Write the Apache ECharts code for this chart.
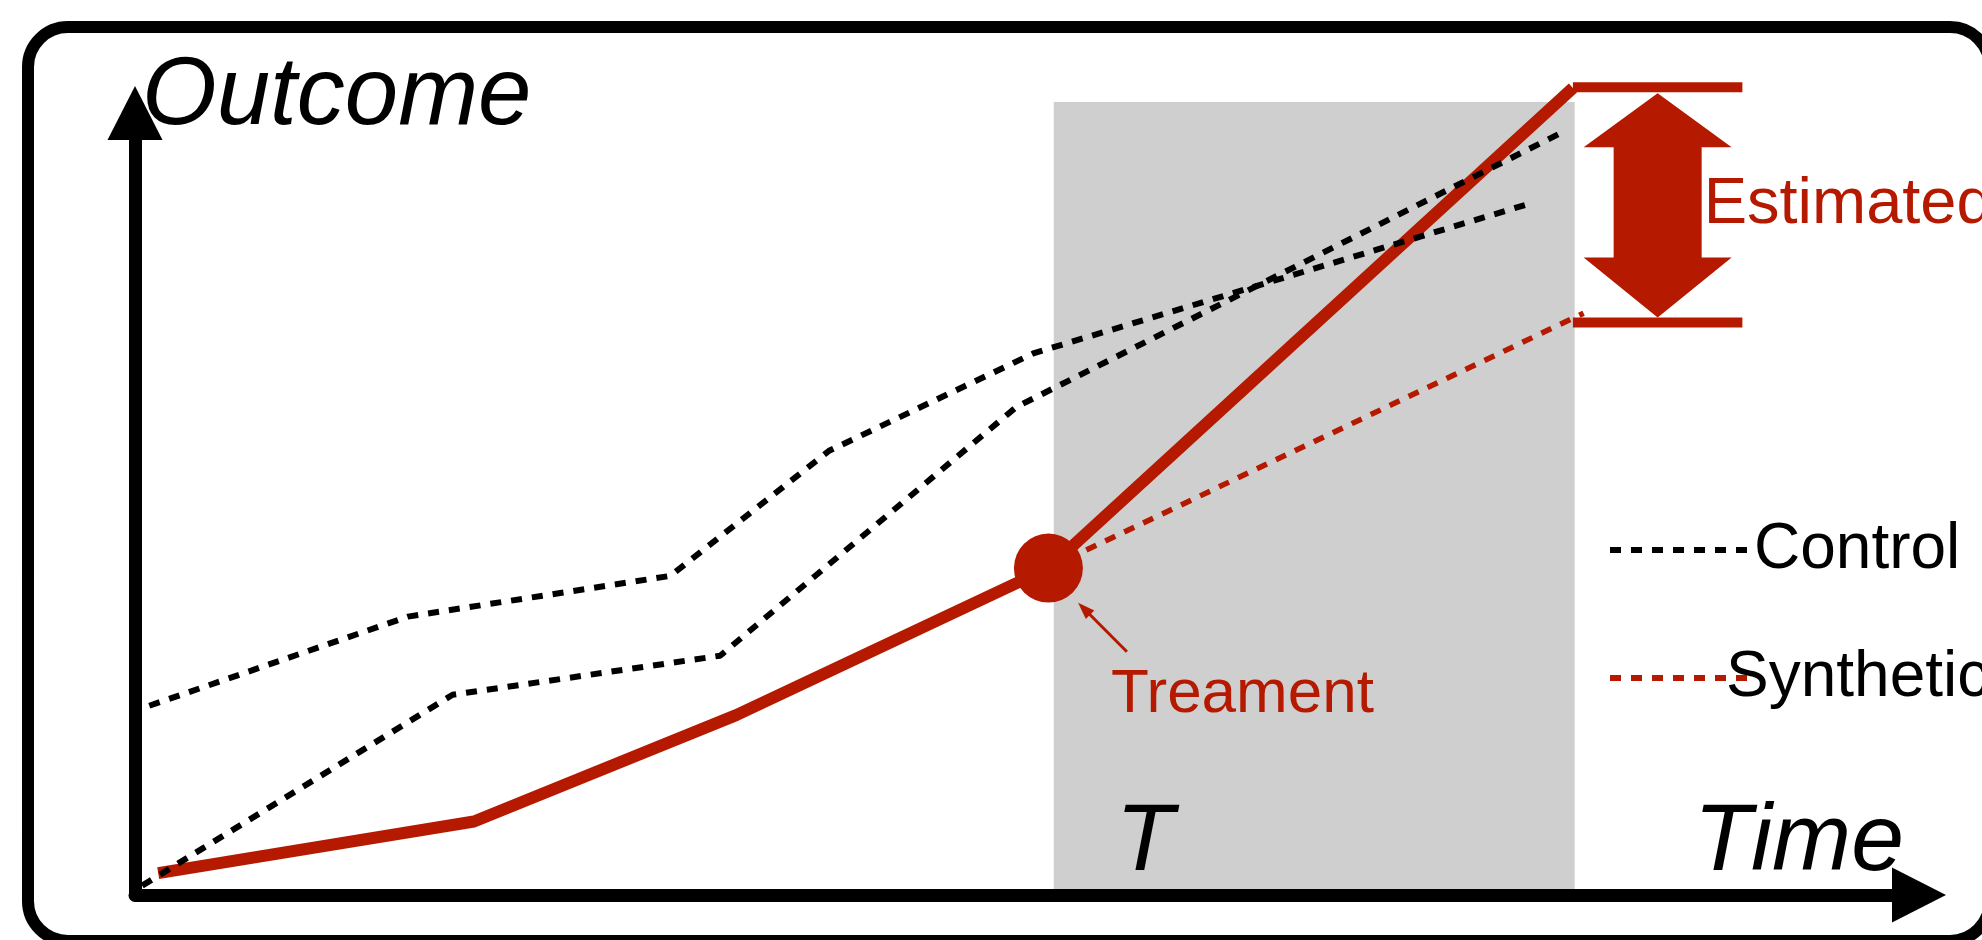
<!DOCTYPE html>
<html>
<head>
<meta charset="utf-8">
<title>Synthetic control</title>
<script src="https://cdn.jsdelivr.net/npm/echarts@6/dist/echarts.min.js"></script>
<style>
  html, body { margin: 0; padding: 0; background: #fff; }
  #main { width: 1982px; height: 940px; }
</style>
</head>
<body>
<div id="main"></div>
<script>
// data (time / outcome in arbitrary units, axes run 0..100)
var timeTreated = [1.3, 19.0, 33.7, 51.2, 80.6];
var outcomeTreated = [2.8, 9.4, 23.0, 41.8, 103.2];
var treatmentIndex = 3;

var timeControlA = [0.8, 15.3, 30.0, 38.9, 50.4, 78.3];
var outcomeControlA = [24.2, 35.6, 40.8, 56.8, 69.3, 88.5];

var timeControlB = [0.4, 17.8, 32.8, 49.4, 79.8];
var outcomeControlB = [1.2, 25.6, 30.6, 62.4, 97.3];

var timeSynthetic = [51.2, 81.2];
var outcomeSynthetic = [41.8, 74.4];

var treatedPeriod = [51.5, 80.7];   // shaded post-treatment window
var shadeTop = 101.4;

var effectTime = [80.6, 90.1];      // extent of the effect brackets
var effectOutcome = [73.2, 103.3];  // synthetic / treated level at the end

var noteFrom = [55.6, 31.1];        // "Treament" pointer
var noteTo = [53.2, 36.6];

var RED = '#b51900';
var FONT = 'Liberation Sans, Arial, Helvetica, sans-serif';

function zip(xs, ys) {
  return xs.map(function (x, i) { return [x, ys[i]]; });
}

var treatedData = zip(timeTreated, outcomeTreated).map(function (p, i) {
  if (i !== treatmentIndex) return p;
  return {
    value: p,
    symbol: 'circle',
    symbolSize: 69,
    itemStyle: { color: RED },
    label: {
      show: true,
      formatter: 'Treament',
      position: [97, 130],
      align: 'left',
      verticalAlign: 'top',
      color: RED,
      fontSize: 62,
      fontFamily: FONT
    }
  };
});

var dashed = [11, 10];

var chart = echarts.init(document.getElementById('main'), null, { renderer: 'canvas' });

var option = {
  animation: false,
  backgroundColor: '#fff',
  textStyle: { fontFamily: FONT },
  grid: { left: 135, right: 63, top: 113, bottom: 45, outerBoundsMode: 'none' },
  legend: {
    orient: 'vertical',
    left: 1602,
    top: 513,
    itemWidth: 139,
    itemHeight: 6,
    itemGap: 64,
    selectedMode: false,
    lineStyle: { width: 6, type: dashed },
    textStyle: { fontSize: 64, color: '#000', fontFamily: FONT },
    data: ['Control', { name: 'Synthetic', textStyle: { padding: [0, 0, 0, -28] } }]
  },
  xAxis: {
    type: 'value', min: 0, max: 100, z: 5,
    name: 'Time',
    nameLocation: 'end',
    nameGap: -15,
    nameTextStyle: {
      fontSize: 95, fontStyle: 'italic', color: '#000', fontFamily: FONT,
      align: 'right', verticalAlign: 'bottom', padding: [0, 0, 4, 0]
    },
    axisLine: {
      show: true,
      symbol: ['none', 'triangle'],
      symbolSize: [55, 54],
      lineStyle: { color: '#000', width: 13 }
    },
    axisTick: { show: false },
    axisLabel: { show: false },
    splitLine: { show: false }
  },
  yAxis: {
    type: 'value', min: 0, max: 100, z: 5,
    name: 'Outcome',
    nameLocation: 'end',
    nameGap: -32,
    nameTextStyle: {
      fontSize: 96, fontStyle: 'italic', color: '#000', fontFamily: FONT,
      align: 'left', verticalAlign: 'bottom', padding: [0, 0, 0, 7]
    },
    axisLine: {
      show: true,
      symbol: ['none', 'triangle'],
      symbolSize: [55, 54],
      lineStyle: { color: '#000', width: 13 }
    },
    axisTick: { show: false },
    axisLabel: { show: false },
    splitLine: { show: false }
  },
  graphic: [{
    type: 'rect',
    shape: { x: 28, y: 27, width: 1962, height: 914, r: 40 },
    style: { fill: 'none', stroke: '#000', lineWidth: 12 },
    silent: true,
    z: 100
  }],
  series: [
    {
      // shaded post-treatment period with the "T" marker
      name: 'period',
      type: 'custom',
      z: 1,
      silent: true,
      renderItem: function (params, api) {
        var lo = api.coord([api.value(0), 0]);
        var hi = api.coord([api.value(1), api.value(2)]);
        return {
          type: 'group',
          children: [
            {
              type: 'rect',
              shape: { x: lo[0], y: hi[1], width: hi[0] - lo[0], height: lo[1] - hi[1] },
              style: { fill: '#cfcfcf' }
            },
            {
              type: 'text',
              style: {
                x: lo[0] + 62, y: hi[1] + 694,
                text: 'T',
                fill: '#000',
                font: 'italic 95px ' + FONT,
                align: 'left',
                verticalAlign: 'top'
              }
            }
          ]
        };
      },
      data: [[treatedPeriod[0], treatedPeriod[1], shadeTop]]
    },
    {
      name: 'Synthetic',
      type: 'line',
      z: 2,
      clip: false,
      silent: true,
      symbol: 'none',
      itemStyle: { color: RED },
      lineStyle: { color: RED, width: 5.5, type: dashed },
      data: zip(timeSynthetic, outcomeSynthetic)
    },
    {
      name: 'Treated',
      type: 'line',
      z: 3,
      clip: false,
      silent: true,
      symbol: 'none',
      emphasis: { disabled: true },
      itemStyle: { color: RED },
      lineStyle: { color: RED, width: 12, join: 'round' },
      data: treatedData,
      markLine: {
        silent: true,
        symbol: ['none', 'triangle'],
        symbolSize: [12, 17],
        label: { show: false },
        lineStyle: { color: RED, width: 3, type: 'solid' },
        data: [[{ coord: noteFrom }, { coord: noteTo }]]
      }
    },
    {
      name: 'Control',
      type: 'line',
      z: 4,
      clip: false,
      silent: true,
      symbol: 'none',
      itemStyle: { color: '#000' },
      lineStyle: { color: '#000', width: 6, type: dashed },
      data: zip(timeControlA, outcomeControlA)
    },
    {
      name: 'Control',
      type: 'line',
      z: 4,
      clip: false,
      silent: true,
      symbol: 'none',
      itemStyle: { color: '#000' },
      lineStyle: { color: '#000', width: 6, type: dashed },
      data: zip(timeControlB, outcomeControlB)
    },
    {
      name: 'effect',
      type: 'custom',
      z: 5,
      silent: true,
      renderItem: function (params, api) {
        var a = api.coord([api.value(0), api.value(3)]);
        var b = api.coord([api.value(1), api.value(3)]);
        var c = api.coord([api.value(0), api.value(2)]);
        var cx = (a[0] + b[0]) / 2;
        var top = a[1], bot = c[1];
        var w = b[0] - a[0];
        var tt = top + 6, tb = bot - 5;
        var head = 74, shaft = 44;
        return {
          type: 'group',
          children: [
            { type: 'rect', shape: { x: a[0], y: top - 5, width: w, height: 10 }, style: { fill: RED } },
            { type: 'rect', shape: { x: c[0], y: bot - 5, width: w, height: 10 }, style: { fill: RED } },
            {
              type: 'polygon',
              shape: {
                points: [
                  [cx, tt], [cx + head, tt + 54], [cx + shaft, tt + 54],
                  [cx + shaft, tb - 60], [cx + head, tb - 60], [cx, tb],
                  [cx - head, tb - 60], [cx - shaft, tb - 60],
                  [cx - shaft, tt + 54], [cx - head, tt + 54]
                ]
              },
              style: { fill: RED }
            },
            {
              type: 'text',
              style: {
                x: cx + 46, y: (top + bot) / 2,
                text: 'Estimated',
                fill: RED,
                font: '65px ' + FONT,
                align: 'left',
                verticalAlign: 'middle'
              }
            }
          ]
        };
      },
      data: [[effectTime[0], effectTime[1], effectOutcome[0], effectOutcome[1]]]
    }
  ]
};

chart.setOption(option);
</script>
</body>
</html>
